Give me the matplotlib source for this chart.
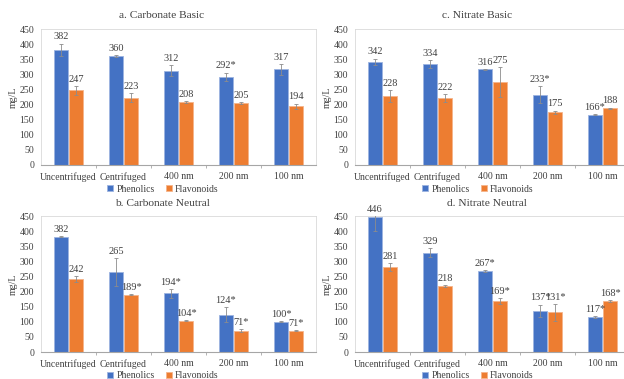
import numpy as np
import matplotlib
matplotlib.use("Agg")
import matplotlib.pyplot as plt

plt.rcParams['font.family'] = ['Liberation Serif', 'DejaVu Serif']

# --- data ---
categories = ["Uncentrifuged", "Centrifuged", "400 nm", "200 nm", "100 nm"]
series_names = ["Phenolics", "Flavonoids"]

titles = ["a. Carbonate Basic", "c. Nitrate Basic", "b. Carbonate Neutral", "d. Nitrate Neutral"]

phen_a = [382, 360, 312, 292, 317]
flav_a = [247, 223, 208, 205, 194]
phen_a_err = [20, 3, 18, 14, 18]
flav_a_err = [15, 14, 3, 3, 9]
phen_a_lbl = ["382", "360", "312", "292*", "317"]
flav_a_lbl = ["247", "223", "208", "205", "194"]

phen_c = [342, 334, 316, 233, 166]
flav_c = [228, 222, 275, 175, 188]
phen_c_err = [10, 14, 2, 28, 2]
flav_c_err = [20, 14, 50, 5, 2]
phen_c_lbl = ["342", "334", "316", "233*", "166*"]
flav_c_lbl = ["228", "222", "275", "175", "188"]

phen_b = [382, 265, 194, 124, 100]
flav_b = [242, 189, 104, 71, 71]
phen_b_err = [2, 45, 14, 24, 2]
flav_b_err = [10, 2, 2, 5, 2]
phen_b_lbl = ["382", "265", "194*", "124*", "100*"]
flav_b_lbl = ["242", "189*", "104*", "71*", "71*"]

phen_d = [446, 329, 267, 137, 117]
flav_d = [281, 218, 169, 131, 168]
phen_d_err = [45, 15, 3, 20, 3]
flav_d_err = [12, 4, 9, 28, 3]
phen_d_lbl = ["446", "329", "267*", "137*", "117*"]
flav_d_lbl = ["281", "218", "169*", "131*", "168*"]

BLUE = "#4472C4"
ORANGE = "#ED7D31"

W, H = 624, 379
fig = plt.figure(figsize=(W / 100, H / 100), dpi=100)


def px_axes(left, top, right, bottom):
    return fig.add_axes([left / W, 1 - bottom / H, (right - left) / W, (bottom - top) / H])


def draw_panel(ax, title, phen, flav, phen_err, flav_err, phen_lbl, flav_lbl, title_x, title_y, leg_x, leg_y):
    x = np.arange(len(categories))
    w = 0.245
    off = 0.137
    b1 = ax.bar(x - off, phen, w, color=BLUE, edgecolor="#9DB4E0", linewidth=0.6, label=series_names[0], zorder=2)
    b2 = ax.bar(x + off, flav, w, color=ORANGE, edgecolor="#F5B48A", linewidth=0.6, label=series_names[1], zorder=2)
    ax.errorbar(x - off, phen, yerr=phen_err, fmt="none", ecolor="#8c8c8c", elinewidth=0.6, capsize=1.5, capthick=0.6, zorder=3)
    ax.errorbar(x + off, flav, yerr=flav_err, fmt="none", ecolor="#8c8c8c", elinewidth=0.6, capsize=1.5, capthick=0.6, zorder=3)
    # value labels sit just above the error bar tops
    for xs, vals, errs, lbls in [(x - off, phen, phen_err, phen_lbl), (x + off, flav, flav_err, flav_lbl)]:
        for xi, v, e, t in zip(xs, vals, errs, lbls):
            top = min(v + e, 450)
            ax.annotate(t, (xi, top), xytext=(0, 4.8), textcoords="offset points",
                        ha="center", va="center", fontsize=7.5, color="#404040", annotation_clip=False)

    ax.set_xlim(-0.5, len(categories) - 0.5)
    ax.set_ylim(0, 450)
    ax.set_yticks(np.arange(0, 451, 50))
    ax.set_xticks(x)
    ax.set_xticklabels(categories)
    ax.set_xticks(np.arange(0.5, len(categories) - 1, 1), minor=True)
    ax.tick_params(axis="x", which="major", length=0, pad=5, labelsize=7, colors="#404040")
    ax.tick_params(axis="x", which="minor", length=2.5, width=0.6, color="#a6a6a6")
    ax.tick_params(axis="y", length=0, pad=5, labelsize=7, colors="#404040")
    for s in ["top", "right", "left"]:
        ax.spines[s].set_color("#d9d9d9")
        ax.spines[s].set_linewidth(0.6)
    ax.spines["bottom"].set_color("#a6a6a6")
    ax.spines["bottom"].set_linewidth(0.8)
    ax.set_ylabel("mg/L", fontsize=7.2, color="#404040", labelpad=1)

    fig.text(title_x / W, 1 - title_y / H, title, ha="center", va="center", fontsize=8.2, color="#404040")
    fig.legend([b1, b2], series_names, loc="center", bbox_to_anchor=(leg_x / W, 1 - leg_y / H),
               ncol=2, frameon=False, fontsize=7, handlelength=0.6, handleheight=0.6,
               handletextpad=0.3, columnspacing=1.2, labelcolor="#404040", borderpad=0)


ax_a = px_axes(41, 29, 316, 165)
draw_panel(ax_a, titles[0], phen_a, flav_a, phen_a_err, flav_a_err, phen_a_lbl, flav_a_lbl, 162, 16, 163, 189)

ax_c = px_axes(355, 29, 630, 165)
draw_panel(ax_c, titles[1], phen_c, flav_c, phen_c_err, flav_c_err, phen_c_lbl, flav_c_lbl, 477, 16, 478, 189)

ax_b = px_axes(41, 216, 316, 352)
draw_panel(ax_b, titles[2], phen_b, flav_b, phen_b_err, flav_b_err, phen_b_lbl, flav_b_lbl, 162, 203, 163, 376)

ax_d = px_axes(355, 216, 630, 352)
draw_panel(ax_d, titles[3], phen_d, flav_d, phen_d_err, flav_d_err, phen_d_lbl, flav_d_lbl, 487, 203, 478, 376)

fig.savefig("out.png", dpi=100)
